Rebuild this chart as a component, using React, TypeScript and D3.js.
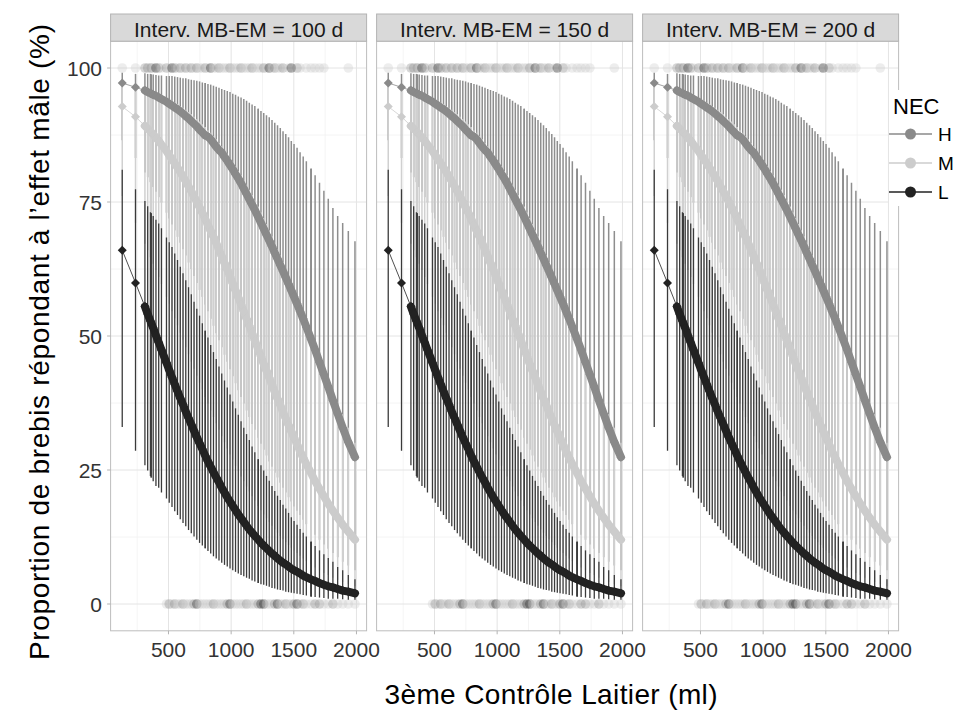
import React from "react";
import * as d3 from "d3";

// ---------- data ----------
const panelLabels = ["Interv. MB-EM = 100 d", "Interv. MB-EM = 150 d", "Interv. MB-EM = 200 d"];
const necLevels = ["H", "M", "L"];
const necColors = ["#8a8a8a", "#cccccc", "#222222"];
const barColors = ["#8e8e8e", "#d0d0d0", "#3a3a3a"];

// observed milk yields (ml) at which predictions / error bars are drawn
const milk = [131, 237, 312, 334, 356, 362, 378, 400, 422, 444, 484, 506, 528, 550, 572, 594, 616, 638, 660, 682, 704, 726, 748, 770, 793, 815, 837, 859, 881, 903, 925, 947, 969, 991, 1013, 1035, 1057, 1079, 1101, 1123, 1145, 1167, 1189, 1216, 1238, 1260, 1282, 1304, 1326, 1348, 1370, 1392, 1414, 1436, 1458, 1480, 1502, 1526, 1550, 1575, 1600, 1638, 1670, 1705, 1740, 1775, 1812, 1850, 1890, 1935, 1988];
// observations that occur several times (overplotted bars)
const repeatedMilk = [362, 793, 1216, 1638];
const repeatCount = [2, 2, 2, 3];

const fitH = [97.2, 96.4, 95.8, 95.5, 95.3, 95.2, 95.0, 94.8, 94.5, 94.2, 93.7, 93.3, 93.0, 92.6, 92.3, 91.9, 91.5, 91.0, 90.6, 90.1, 89.6, 89.1, 88.5, 88.0, 87.4, 87.2, 86.7, 86.0, 85.3, 84.7, 84.2, 83.4, 82.7, 81.9, 81.1, 80.2, 79.4, 78.5, 77.5, 76.5, 75.5, 74.5, 73.5, 72.2, 71.1, 70.0, 68.9, 67.8, 66.7, 65.5, 64.4, 63.2, 62.1, 60.9, 59.7, 58.5, 57.3, 56.0, 54.6, 53.2, 51.7, 49.4, 47.4, 45.1, 42.8, 40.5, 38.0, 35.5, 32.9, 30.2, 27.4];
const loH = [86.5, 83.2, 80.5, 79.6, 78.7, 78.5, 77.8, 76.9, 75.9, 74.9, 73.0, 71.9, 70.8, 69.7, 68.5, 67.4, 66.2, 65.0, 63.7, 62.5, 61.2, 59.9, 58.6, 57.3, 55.9, 54.6, 53.2, 51.9, 50.5, 49.2, 47.9, 46.5, 45.2, 43.8, 42.5, 41.2, 39.9, 38.6, 37.4, 36.1, 34.9, 33.6, 32.5, 31.0, 29.9, 28.8, 27.7, 26.6, 25.6, 24.5, 23.6, 22.6, 21.7, 20.8, 19.9, 19.1, 18.2, 17.4, 16.6, 15.7, 14.9, 13.8, 12.9, 12.0, 11.1, 10.3, 9.5, 8.7, 7.9, 7.2, 6.3];
const hiH = [99.1, 98.9, 99.0, 98.9, 98.9, 98.8, 98.8, 98.7, 98.6, 98.6, 98.5, 98.5, 98.5, 98.4, 98.3, 98.2, 98.1, 98.1, 97.9, 97.8, 97.7, 97.6, 97.5, 97.3, 97.2, 97.0, 96.9, 96.7, 96.5, 96.3, 96.1, 95.9, 95.7, 95.5, 95.2, 95.0, 94.7, 94.5, 94.2, 93.9, 93.5, 93.2, 92.9, 92.4, 92.0, 91.6, 91.2, 90.8, 90.3, 89.8, 89.3, 88.8, 88.2, 87.7, 87.1, 86.4, 85.8, 85.1, 84.3, 83.5, 82.6, 81.2, 80.0, 78.6, 77.1, 75.6, 73.9, 72.4, 71.1, 69.6, 67.7];

const fitM = [92.8, 90.9, 89.2, 88.7, 88.2, 88.0, 87.6, 87.0, 86.4, 85.7, 84.5, 83.7, 83.0, 82.2, 81.4, 80.6, 79.7, 78.9, 77.9, 77.0, 76.0, 75.1, 74.0, 73.0, 71.8, 70.7, 69.6, 68.5, 67.3, 66.1, 64.9, 63.6, 62.4, 61.1, 59.8, 58.5, 57.2, 55.9, 54.6, 53.2, 51.9, 50.5, 49.2, 47.5, 46.2, 44.8, 43.5, 42.2, 40.9, 39.6, 38.3, 37.1, 35.8, 34.6, 33.4, 32.2, 31.0, 29.8, 28.5, 27.3, 26.1, 24.4, 22.9, 21.5, 20.1, 18.7, 17.4, 16.1, 14.8, 13.5, 12.0];
const loM = [76.1, 71.1, 67.2, 66.0, 64.7, 64.4, 63.5, 62.3, 61.0, 59.7, 57.3, 56.0, 54.6, 53.3, 52.0, 50.6, 49.3, 47.9, 46.6, 45.2, 43.9, 42.6, 41.3, 40.0, 38.6, 37.4, 36.1, 34.9, 33.7, 32.5, 31.3, 30.2, 29.0, 27.9, 26.9, 25.8, 24.8, 23.8, 22.9, 21.9, 21.0, 20.1, 19.3, 18.3, 17.5, 16.7, 16.0, 15.3, 14.6, 13.9, 13.3, 12.7, 12.1, 11.5, 11.0, 10.5, 10.0, 9.5, 9.0, 8.5, 8.0, 7.4, 6.8, 6.3, 5.8, 5.4, 4.9, 4.5, 4.1, 3.7, 3.3];
const hiM = [97.6, 96.9, 96.3, 96.1, 95.9, 95.9, 95.7, 95.5, 95.2, 95.0, 94.5, 94.2, 93.9, 93.6, 93.3, 92.9, 92.6, 92.2, 91.8, 91.4, 90.9, 90.5, 90.0, 89.5, 89.0, 88.4, 87.9, 87.3, 86.7, 86.0, 85.4, 84.7, 84.0, 83.2, 82.5, 81.7, 80.8, 80.0, 79.1, 78.2, 77.3, 76.3, 75.3, 74.1, 73.1, 72.0, 70.9, 69.7, 68.6, 67.4, 66.2, 65.0, 63.8, 62.5, 61.3, 60.0, 58.7, 57.2, 55.8, 54.3, 52.7, 50.4, 48.5, 46.3, 44.2, 42.1, 39.9, 37.7, 35.4, 32.9, 30.1];

const fitL = [66.0, 59.9, 55.5, 54.1, 52.8, 52.4, 51.5, 50.1, 48.8, 47.4, 45.0, 43.6, 42.3, 41.0, 39.7, 38.4, 37.2, 35.9, 34.7, 33.5, 32.3, 31.1, 30.0, 28.9, 27.7, 26.6, 25.6, 24.6, 23.6, 22.7, 21.7, 20.8, 19.9, 19.1, 18.3, 17.5, 16.7, 16.0, 15.3, 14.6, 13.9, 13.3, 12.7, 12.0, 11.4, 10.9, 10.4, 9.9, 9.4, 9.0, 8.5, 8.1, 7.7, 7.4, 7.0, 6.6, 6.3, 6.0, 5.7, 5.3, 5.0, 4.6, 4.3, 3.9, 3.6, 3.3, 3.1, 2.8, 2.5, 2.3, 2.0];
const loL = [33.0, 28.6, 25.9, 24.9, 23.9, 23.6, 22.9, 22.0, 21.7, 20.8, 19.7, 18.9, 18.1, 17.3, 16.6, 15.8, 15.1, 14.5, 13.8, 13.2, 12.6, 12.0, 11.4, 10.9, 10.4, 9.9, 9.4, 8.9, 8.5, 8.1, 7.7, 7.3, 7.0, 6.6, 6.3, 6.0, 5.7, 5.4, 5.2, 4.9, 4.7, 4.4, 4.2, 3.9, 3.7, 3.6, 3.4, 3.2, 3.0, 2.9, 2.7, 2.6, 2.5, 2.3, 2.2, 2.1, 2.0, 1.9, 1.8, 1.7, 1.6, 1.4, 1.3, 1.2, 1.1, 1.0, 1.0, 1.0, 0.9, 0.8, 0.8];
const hiL = [81.0, 77.4, 75.2, 74.2, 73.1, 72.9, 72.4, 71.7, 71.0, 70.1, 68.4, 67.5, 66.6, 65.4, 64.2, 62.9, 61.7, 60.4, 59.1, 57.8, 56.4, 55.1, 53.8, 52.4, 51.0, 49.7, 48.3, 47.0, 45.7, 44.3, 43.0, 41.7, 40.4, 39.1, 37.8, 36.5, 35.3, 34.1, 32.9, 31.7, 30.6, 29.4, 28.3, 27.0, 25.9, 24.9, 23.9, 23.0, 22.0, 21.1, 20.2, 19.4, 18.5, 17.8, 17.0, 16.2, 15.5, 14.8, 14.0, 13.3, 12.6, 11.6, 10.8, 10.0, 9.3, 8.6, 7.9, 6.9, 6.3, 5.4, 4.6];

// raw observations: responders (100 %) and non-responders (0 %)
const respMilk = [131, 237, 312, 334, 356, 362, 378, 400, 422, 444, 484, 506, 528, 550, 572, 594, 616, 638, 660, 682, 704, 726, 748, 770, 793, 815, 837, 859, 881, 903, 925, 947, 969, 991, 1013, 1035, 1057, 1079, 1101, 1123, 1145, 1167, 1189, 1216, 1238, 1260, 1282, 1304, 1326, 1348, 1370, 1392, 1414, 1458, 1480, 1526, 1550, 1600, 1638, 1670, 1705, 1740, 1935];
const respNec = "MMHHMHMLHMHMLHMHMHMHMHMMHMLMMHMMMHMMMHMMMHMMMHMLMHMMHMLHMMMMMMM".split("");
const nonRespMilk = [484, 506, 528, 550, 572, 594, 616, 638, 660, 682, 704, 726, 748, 770, 793, 815, 837, 859, 881, 903, 925, 947, 969, 991, 1013, 1035, 1057, 1079, 1101, 1123, 1145, 1167, 1189, 1216, 1238, 1260, 1282, 1304, 1326, 1348, 1370, 1392, 1414, 1436, 1458, 1480, 1502, 1526, 1550, 1575, 1600, 1638, 1670, 1705, 1740, 1775, 1812, 1850, 1890, 1935, 1988];
const nonRespNec = "MHMHMMHMMMHLMMMMMHMMMMHLMMMMMHMMMHLLMMMHLMMHMMHLMHMMHHMMHMMMM".split("");

const xTicks = [500, 1000, 1500, 2000];
const xMinor = [250, 750, 1250, 1750];
const yTicks = [0, 25, 50, 75, 100];
const yMinor = [12.5, 37.5, 62.5, 87.5];

const FONT = "'Liberation Sans', Arial, Helvetica, sans-serif";

export default function App() {
  const panelW = 256;
  const panelStep = 266;
  const panelLeft = 110.6;
  const panelTop = 41.2;
  const panelBottom = 630.8;
  const stripTop = 14;

  const ext = d3.extent(milk) as [number, number];
  const pad = (ext[1] - ext[0]) * 0.05;
  const x = d3.scaleLinear().domain([ext[0] - pad, ext[1] + pad]).range([0, panelW]);
  const y = d3.scaleLinear().domain([-5, 105]).range([panelBottom, panelTop]);

  const fits = [fitH, fitM, fitL];
  const los = [loH, loM, loL];
  const his = [hiH, hiM, hiL];
  const reps = milk.map((m) => {
    const j = repeatedMilk.indexOf(m);
    return j >= 0 ? repeatCount[j] : 1;
  });
  const colorOf = (n: string) => necColors[necLevels.indexOf(n)];
  const lineGen = d3
    .line<[number, number]>()
    .x((d) => x(d[0]))
    .y((d) => y(d[1]));
  const diamond = "M0,-4.5L4.5,0L0,4.5L-4.5,0Z";

  return (
    <svg
      width={957}
      height={719}
      style={{ position: "absolute", left: 0, top: 0 }}
      fontFamily={FONT}
    >
      <rect x={0} y={0} width={957} height={719} fill="#ffffff" />
      {panelLabels.map((lab, p) => {
        const ox = panelLeft + p * panelStep;
        return (
          <g key={lab} transform={`translate(${ox},0)`}>
            <rect x={0} y={panelTop} width={panelW} height={panelBottom - panelTop} fill="#ffffff" />
            {yMinor.map((v) => (
              <line key={"ym" + v} x1={0} x2={panelW} y1={y(v)} y2={y(v)} stroke="#f1f1f1" strokeWidth={0.8} />
            ))}
            {xMinor.map((v) => (
              <line key={"xm" + v} x1={x(v)} x2={x(v)} y1={panelTop} y2={panelBottom} stroke="#f1f1f1" strokeWidth={0.8} />
            ))}
            {yTicks.map((v) => (
              <line key={"yM" + v} x1={0} x2={panelW} y1={y(v)} y2={y(v)} stroke="#e4e4e4" strokeWidth={1} />
            ))}
            {xTicks.map((v) => (
              <line key={"xM" + v} x1={x(v)} x2={x(v)} y1={panelTop} y2={panelBottom} stroke="#e4e4e4" strokeWidth={1} />
            ))}

            {/* raw observations */}
            {respMilk.map((m, i) => (
              <circle key={"r" + i} cx={x(m)} cy={y(100)} r={4.8} fill={colorOf(respNec[i])} fillOpacity={0.35} />
            ))}
            {nonRespMilk.map((m, i) => (
              <circle key={"n" + i} cx={x(m)} cy={y(0)} r={4.8} fill={colorOf(nonRespNec[i])} fillOpacity={0.35} />
            ))}

            {/* error bars: H, then M, then L */}
            {necLevels.map((nec, k) => (
              <g key={"eb" + nec} stroke={barColors[k]} strokeWidth={k === 2 ? 1.3 : 1.5}>
                {milk.map((m, i) =>
                  d3.range(reps[i]).map((r) => (
                    <line key={i + "-" + r} x1={x(m)} x2={x(m)} y1={y(his[k][i])} y2={y(los[k][i])} />
                  ))
                )}
              </g>
            ))}

            {/* connecting lines + dense prediction band */}
            {necLevels.map((nec, k) => {
              const pts = milk.map((m, i) => [m, fits[k][i]] as [number, number]);
              return (
                <g key={"ln" + nec} fill="none" stroke={necColors[k]}>
                  <path d={lineGen(pts) || ""} strokeWidth={0.8} />
                  <path d={lineGen(pts.slice(2)) || ""} strokeWidth={8} strokeLinecap="round" strokeLinejoin="round" />
                </g>
              );
            })}

            {/* predicted points */}
            {necLevels.map((nec, k) => (
              <g key={"pt" + nec} fill={necColors[k]}>
                {milk.map((m, i) => (
                  <path key={i} d={diamond} transform={`translate(${x(m)},${y(fits[k][i])})`} />
                ))}
              </g>
            ))}

            <rect x={0} y={panelTop} width={panelW} height={panelBottom - panelTop} fill="none" stroke="#bdbdbd" strokeWidth={1} />

            {/* x axis */}
            {xTicks.map((v) => (
              <g key={"xt" + v}>
                <line x1={x(v)} x2={x(v)} y1={panelBottom} y2={panelBottom + 3.5} stroke="#b3b3b3" strokeWidth={1} />
                <text x={x(v)} y={657} textAnchor="middle" fontSize={21} fill="#333333">
                  {v}
                </text>
              </g>
            ))}

            {/* strip */}
            <rect x={0} y={stripTop} width={panelW} height={panelTop - stripTop} fill="#d9d9d9" stroke="#b3b3b3" strokeWidth={1} />
            <text x={panelW / 2} y={36.5} textAnchor="middle" fontSize={21} fill="#1a1a1a">
              {lab}
            </text>
          </g>
        );
      })}

      {/* y axis */}
      {yTicks.map((v) => (
        <g key={"yt" + v}>
          <line x1={panelLeft - 3.5} x2={panelLeft} y1={y(v)} y2={y(v)} stroke="#b3b3b3" strokeWidth={1} />
          <text x={102} y={y(v) + 7.5} textAnchor="end" fontSize={21} fill="#333333">
            {v}
          </text>
        </g>
      ))}

      {/* axis titles */}
      <text x={551} y={704} textAnchor="middle" fontSize={28} fill="#000000" textLength={333} lengthAdjust="spacing">
        3ème Contrôle Laitier (ml)
      </text>
      <text
        transform="translate(49,342) rotate(-90)"
        textAnchor="middle"
        fontSize={28}
        fill="#000000"
        textLength={636}
        lengthAdjust="spacing"
      >
        Proportion de brebis répondant à l’effet mâle (%)
      </text>

      {/* legend */}
      <rect x={889} y={90} width={68} height={116} fill="#ffffff" />
      <text x={893} y={114} fontSize={22} fill="#000000">
        NEC
      </text>
      {necLevels.map((nec, k) => {
        const ky = 134 + k * 29;
        return (
          <g key={"lg" + nec}>
            <line x1={889} x2={932} y1={ky} y2={ky} stroke={necColors[k]} strokeWidth={1.6} />
            <circle cx={910.5} cy={ky} r={5.5} fill={necColors[k]} />
            <text x={938} y={ky + 7} fontSize={19} fill="#000000">
              {nec}
            </text>
          </g>
        );
      })}
    </svg>
  );
}
